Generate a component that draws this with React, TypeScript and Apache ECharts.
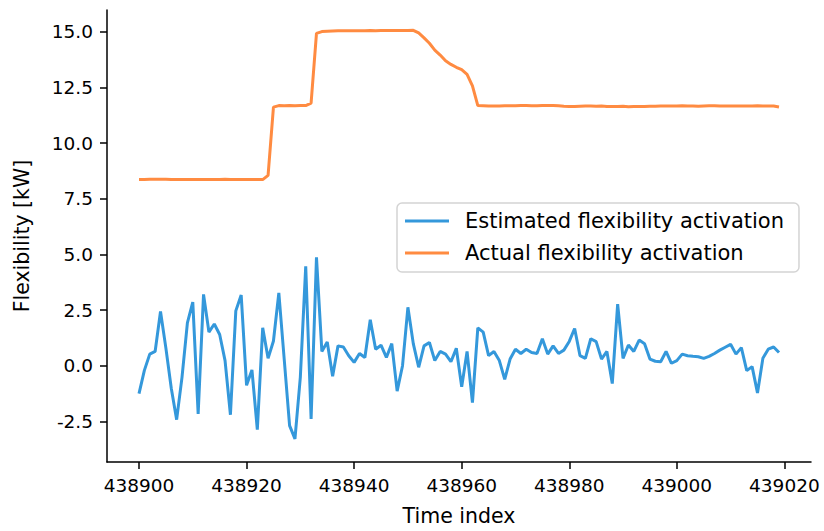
import React, { useEffect, useRef } from "react";
import * as echarts from "echarts";

const startIndex = 438900;
const estimated = [
  -1.24, -0.2, 0.53, 0.65, 2.44, 0.8, -1.0, -2.41, -0.5, 1.93,
  2.86, -2.15, 3.21, 1.52, 1.88, 1.41, 0.24, -2.19, 2.47, 3.18,
  -0.87, -0.18, -2.86, 1.71, 0.34, 1.12, 3.28, 0.3, -2.68, -3.27,
  -0.5, 4.47, -2.38, 4.87, 0.65, 1.07, -0.46, 0.9, 0.85, 0.46,
  0.16, 0.56, 0.38, 2.07, 0.75, 0.93, 0.38, 1.0, -1.13, 0.01,
  2.63, 1.0, -0.06, 0.9, 1.05, 0.24, 0.65, 0.53, 0.19, 0.79,
  -0.94, 0.65, -1.65, 1.71, 1.52, 0.46, 0.65, 0.24, -0.6, 0.31,
  0.75, 0.56, 0.75, 0.6, 0.56, 1.22, 0.53, 0.9, 0.56, 0.71,
  1.1, 1.68, 0.46, 0.34, 1.22, 1.09, 0.31, 0.65, -0.79, 2.77,
  0.34, 0.94, 0.65, 1.16, 1.0, 0.31, 0.21, 0.19, 0.65, 0.12,
  0.24, 0.53, 0.46, 0.43, 0.41, 0.34, 0.43, 0.56, 0.71, 0.84,
  0.97, 0.53, 0.82, -0.21, -0.03, -1.21, 0.34, 0.75, 0.85, 0.6,
];
const actual = [
  8.37, 8.37, 8.38, 8.38, 8.38, 8.38, 8.37, 8.36, 8.36, 8.36,
  8.36, 8.37, 8.37, 8.37, 8.37, 8.37, 8.38, 8.37, 8.36, 8.36,
  8.36, 8.37, 8.36, 8.36, 8.55, 11.61, 11.68, 11.67, 11.69, 11.67,
  11.68, 11.68, 11.79, 14.92, 15.0, 15.02, 15.03, 15.04, 15.04, 15.04,
  15.04, 15.04, 15.04, 15.05, 15.04, 15.05, 15.05, 15.05, 15.05, 15.05,
  15.05, 15.06, 14.94, 14.72, 14.48, 14.17, 13.95, 13.69, 13.53, 13.4,
  13.29, 13.08, 12.57, 11.68, 11.67, 11.66, 11.66, 11.66, 11.67, 11.67,
  11.67, 11.68, 11.68, 11.67, 11.67, 11.68, 11.68, 11.69, 11.67, 11.65,
  11.64, 11.64, 11.65, 11.66, 11.66, 11.65, 11.66, 11.64, 11.64, 11.64,
  11.65, 11.63, 11.64, 11.64, 11.64, 11.65, 11.65, 11.66, 11.66, 11.66,
  11.66, 11.67, 11.66, 11.66, 11.65, 11.66, 11.67, 11.67, 11.66, 11.66,
  11.66, 11.66, 11.66, 11.66, 11.66, 11.67, 11.66, 11.66, 11.66, 11.62,
];
const timeIndex = estimated.map((_, i) => startIndex + i);
const xTicks = [438900, 438920, 438940, 438960, 438980, 439000, 439020];
const yTicks = [-2.5, 0, 2.5, 5, 7.5, 10, 12.5, 15];
const seriesNames = ["Estimated flexibility activation", "Actual flexibility activation"];
const colors = ["#3498db", "#ff8b41"];

const FONT = "DejaVu Sans";

export default function App() {
  const ref = useRef<HTMLDivElement>(null);
  useEffect(() => {
    document.body.style.margin = "0";
    if (!ref.current) return;
    const chart = echarts.init(ref.current, undefined, { renderer: "svg" });
    const axisLine = { show: true, onZero: false, lineStyle: { color: "#000", width: 1.5 } };
    const tick = { show: true, inside: false, length: 7, lineStyle: { color: "#000", width: 1.5 } };
    const nameStyle = { fontFamily: FONT, fontSize: 20.5, color: "#000" };
    const labelStyle = { fontFamily: FONT, fontSize: 18.5, color: "#000", margin: 14 };
    chart.setOption({
      animation: false,
      backgroundColor: "#fff",
      grid: { left: 107, right: 13, top: 10, bottom: 62, containLabel: false },
      xAxis: {
        type: "value",
        min: 438894.05,
        max: 439024.95,
        name: "Time index",
        nameLocation: "middle",
        nameGap: 43,
        nameTextStyle: nameStyle,
        axisLine,
        splitLine: { show: false },
        axisTick: { ...tick, customValues: xTicks },
        axisLabel: {
          ...labelStyle,
          customValues: xTicks,
          formatter: (v: number) => String(v),
        },
      },
      yAxis: {
        type: "value",
        min: -4.31,
        max: 15.97,
        name: "Flexibility [kW]",
        nameLocation: "middle",
        nameGap: 75,
        nameTextStyle: nameStyle,
        axisLine,
        splitLine: { show: false },
        axisTick: { ...tick, customValues: yTicks },
        axisLabel: {
          ...labelStyle,
          customValues: yTicks,
          formatter: (v: number) => v.toFixed(1),
        },
      },
      legend: {
        left: 397,
        top: 203,
        orient: "vertical",
        padding: [7, 15, 8, 8],
        itemGap: 10,
        itemWidth: 44,
        itemHeight: 3,
        icon: "rect",
        backgroundColor: "rgba(255,255,255,0.85)",
        borderColor: "#d4d4d4",
        borderWidth: 1.5,
        borderRadius: 5,
        textStyle: { fontFamily: FONT, fontSize: 21, lineHeight: 22, color: "#000", padding: [0, 0, 0, 11] },
        data: seriesNames,
      },
      series: [
        {
          name: seriesNames[0],
          type: "line",
          symbol: "none",
          data: timeIndex.map((t, i) => [t, estimated[i]]),
          lineStyle: { color: colors[0], width: 3 },
          itemStyle: { color: colors[0] },
        },
        {
          name: seriesNames[1],
          type: "line",
          symbol: "none",
          data: timeIndex.map((t, i) => [t, actual[i]]),
          lineStyle: { color: colors[1], width: 3 },
          itemStyle: { color: colors[1] },
        },
      ],
    });
    return () => chart.dispose();
  }, []);
  return <div ref={ref} style={{ width: 824, height: 531 }} />;
}
